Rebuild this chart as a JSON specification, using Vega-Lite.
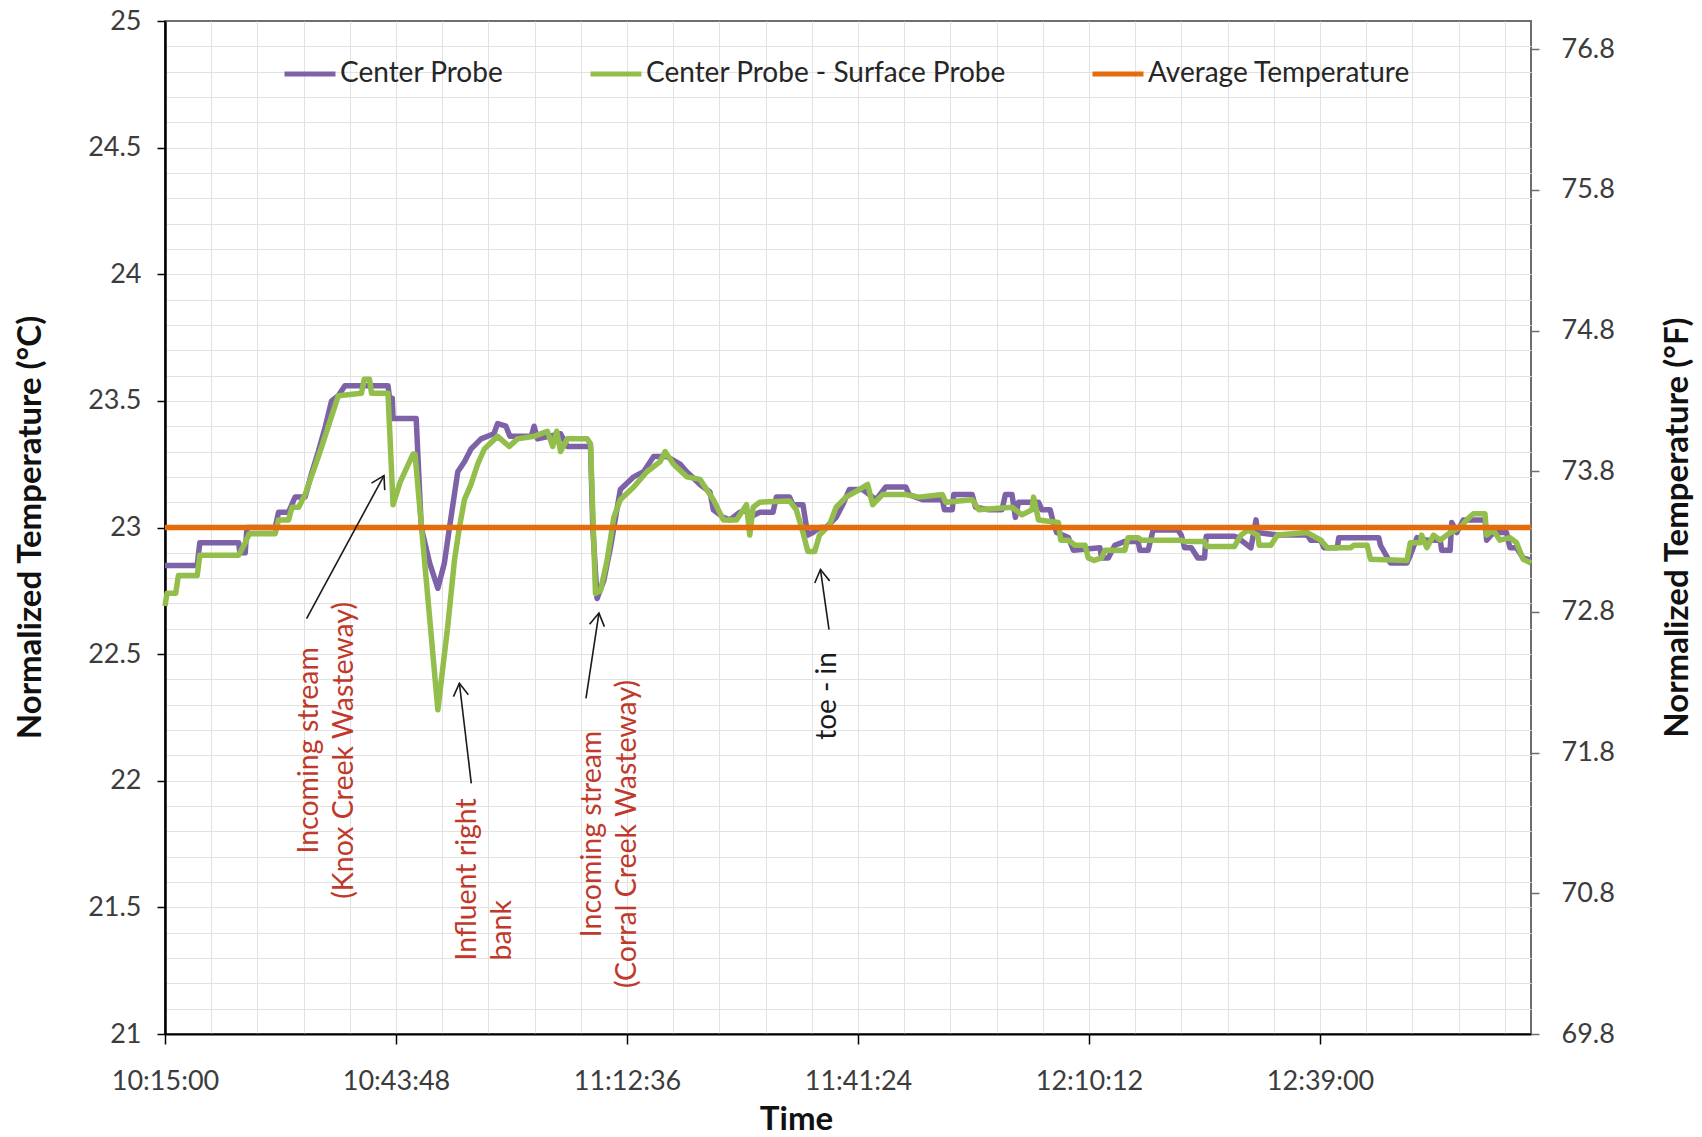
{
  "$schema": "https://vega.github.io/schema/vega-lite/v6.json",
  "width": 1366,
  "height": 1013,
  "autosize": {"type": "none"},
  "padding": {"left": 165, "top": 21, "right": 171, "bottom": 103},
  "background": "white",
  "config": {
    "font": "Lato",
    "view": {"stroke": "#6e6e6e", "strokeWidth": 2},
    "axis": {"labelFont": "Lato", "titleFont": "Lato", "labelColor": "#3c3c3c", "titleColor": "#111111", "labelFontSize": 27, "titleFontSize": 33, "titleFontWeight": "bold", "labelFlush": false, "labelOverlap": false}
  },
  "datasets": {
    "series": [
      {"t": "10:15:00", "T": 22.85, "s": "Center Probe"},
      {"t": "10:19:01", "T": 22.85, "s": "Center Probe"},
      {"t": "10:19:20", "T": 22.94, "s": "Center Probe"},
      {"t": "10:24:11", "T": 22.94, "s": "Center Probe"},
      {"t": "10:24:20", "T": 22.90, "s": "Center Probe"},
      {"t": "10:25:00", "T": 22.90, "s": "Center Probe"},
      {"t": "10:25:13", "T": 23.00, "s": "Center Probe"},
      {"t": "10:28:44", "T": 23.00, "s": "Center Probe"},
      {"t": "10:29:09", "T": 23.06, "s": "Center Probe"},
      {"t": "10:30:24", "T": 23.06, "s": "Center Probe"},
      {"t": "10:31:13", "T": 23.12, "s": "Center Probe"},
      {"t": "10:32:28", "T": 23.12, "s": "Center Probe"},
      {"t": "10:33:20", "T": 23.22, "s": "Center Probe"},
      {"t": "10:34:07", "T": 23.30, "s": "Center Probe"},
      {"t": "10:35:00", "T": 23.40, "s": "Center Probe"},
      {"t": "10:35:46", "T": 23.50, "s": "Center Probe"},
      {"t": "10:36:36", "T": 23.52, "s": "Center Probe"},
      {"t": "10:37:26", "T": 23.56, "s": "Center Probe"},
      {"t": "10:42:48", "T": 23.56, "s": "Center Probe"},
      {"t": "10:43:00", "T": 23.51, "s": "Center Probe"},
      {"t": "10:43:20", "T": 23.51, "s": "Center Probe"},
      {"t": "10:43:26", "T": 23.43, "s": "Center Probe"},
      {"t": "10:46:19", "T": 23.43, "s": "Center Probe"},
      {"t": "10:46:57", "T": 23.00, "s": "Center Probe"},
      {"t": "10:47:59", "T": 22.86, "s": "Center Probe"},
      {"t": "10:49:01", "T": 22.76, "s": "Center Probe"},
      {"t": "10:49:50", "T": 22.86, "s": "Center Probe"},
      {"t": "10:50:28", "T": 23.00, "s": "Center Probe"},
      {"t": "10:51:30", "T": 23.22, "s": "Center Probe"},
      {"t": "10:52:20", "T": 23.26, "s": "Center Probe"},
      {"t": "10:53:09", "T": 23.31, "s": "Center Probe"},
      {"t": "10:54:24", "T": 23.35, "s": "Center Probe"},
      {"t": "10:56:00", "T": 23.37, "s": "Center Probe"},
      {"t": "10:56:28", "T": 23.41, "s": "Center Probe"},
      {"t": "10:57:30", "T": 23.40, "s": "Center Probe"},
      {"t": "10:58:00", "T": 23.36, "s": "Center Probe"},
      {"t": "11:00:40", "T": 23.36, "s": "Center Probe"},
      {"t": "11:01:01", "T": 23.40, "s": "Center Probe"},
      {"t": "11:01:26", "T": 23.35, "s": "Center Probe"},
      {"t": "11:04:19", "T": 23.37, "s": "Center Probe"},
      {"t": "11:05:09", "T": 23.32, "s": "Center Probe"},
      {"t": "11:08:03", "T": 23.32, "s": "Center Probe"},
      {"t": "11:08:20", "T": 23.00, "s": "Center Probe"},
      {"t": "11:08:52", "T": 22.72, "s": "Center Probe"},
      {"t": "11:09:42", "T": 22.79, "s": "Center Probe"},
      {"t": "11:10:32", "T": 22.92, "s": "Center Probe"},
      {"t": "11:11:46", "T": 23.15, "s": "Center Probe"},
      {"t": "11:13:26", "T": 23.20, "s": "Center Probe"},
      {"t": "11:14:40", "T": 23.22, "s": "Center Probe"},
      {"t": "11:15:55", "T": 23.28, "s": "Center Probe"},
      {"t": "11:17:34", "T": 23.28, "s": "Center Probe"},
      {"t": "11:19:13", "T": 23.25, "s": "Center Probe"},
      {"t": "11:20:03", "T": 23.22, "s": "Center Probe"},
      {"t": "11:21:42", "T": 23.17, "s": "Center Probe"},
      {"t": "11:22:56", "T": 23.14, "s": "Center Probe"},
      {"t": "11:23:22", "T": 23.07, "s": "Center Probe"},
      {"t": "11:24:36", "T": 23.04, "s": "Center Probe"},
      {"t": "11:25:25", "T": 23.03, "s": "Center Probe"},
      {"t": "11:26:40", "T": 23.06, "s": "Center Probe"},
      {"t": "11:27:30", "T": 23.07, "s": "Center Probe"},
      {"t": "11:27:54", "T": 23.04, "s": "Center Probe"},
      {"t": "11:29:09", "T": 23.06, "s": "Center Probe"},
      {"t": "11:30:48", "T": 23.06, "s": "Center Probe"},
      {"t": "11:31:13", "T": 23.12, "s": "Center Probe"},
      {"t": "11:32:52", "T": 23.12, "s": "Center Probe"},
      {"t": "11:33:17", "T": 23.09, "s": "Center Probe"},
      {"t": "11:34:32", "T": 23.09, "s": "Center Probe"},
      {"t": "11:34:50", "T": 23.03, "s": "Center Probe"},
      {"t": "11:35:09", "T": 22.97, "s": "Center Probe"},
      {"t": "11:35:46", "T": 22.98, "s": "Center Probe"},
      {"t": "11:36:36", "T": 23.00, "s": "Center Probe"},
      {"t": "11:37:25", "T": 23.00, "s": "Center Probe"},
      {"t": "11:38:40", "T": 23.04, "s": "Center Probe"},
      {"t": "11:39:30", "T": 23.09, "s": "Center Probe"},
      {"t": "11:40:19", "T": 23.15, "s": "Center Probe"},
      {"t": "11:41:59", "T": 23.15, "s": "Center Probe"},
      {"t": "11:43:38", "T": 23.11, "s": "Center Probe"},
      {"t": "11:44:52", "T": 23.16, "s": "Center Probe"},
      {"t": "11:47:21", "T": 23.16, "s": "Center Probe"},
      {"t": "11:47:46", "T": 23.13, "s": "Center Probe"},
      {"t": "11:49:26", "T": 23.11, "s": "Center Probe"},
      {"t": "11:51:55", "T": 23.11, "s": "Center Probe"},
      {"t": "11:52:10", "T": 23.07, "s": "Center Probe"},
      {"t": "11:53:09", "T": 23.07, "s": "Center Probe"},
      {"t": "11:53:20", "T": 23.13, "s": "Center Probe"},
      {"t": "11:55:38", "T": 23.13, "s": "Center Probe"},
      {"t": "11:56:03", "T": 23.08, "s": "Center Probe"},
      {"t": "11:57:42", "T": 23.07, "s": "Center Probe"},
      {"t": "11:59:21", "T": 23.07, "s": "Center Probe"},
      {"t": "11:59:46", "T": 23.13, "s": "Center Probe"},
      {"t": "12:00:36", "T": 23.13, "s": "Center Probe"},
      {"t": "12:01:01", "T": 23.04, "s": "Center Probe"},
      {"t": "12:01:25", "T": 23.10, "s": "Center Probe"},
      {"t": "12:03:54", "T": 23.10, "s": "Center Probe"},
      {"t": "12:04:19", "T": 23.07, "s": "Center Probe"},
      {"t": "12:05:21", "T": 23.07, "s": "Center Probe"},
      {"t": "12:05:40", "T": 23.03, "s": "Center Probe"},
      {"t": "12:06:10", "T": 22.98, "s": "Center Probe"},
      {"t": "12:07:38", "T": 22.96, "s": "Center Probe"},
      {"t": "12:08:15", "T": 22.91, "s": "Center Probe"},
      {"t": "12:11:34", "T": 22.92, "s": "Center Probe"},
      {"t": "12:11:46", "T": 22.88, "s": "Center Probe"},
      {"t": "12:12:36", "T": 22.88, "s": "Center Probe"},
      {"t": "12:13:25", "T": 22.93, "s": "Center Probe"},
      {"t": "12:14:40", "T": 22.945, "s": "Center Probe"},
      {"t": "12:16:19", "T": 22.945, "s": "Center Probe"},
      {"t": "12:16:32", "T": 22.91, "s": "Center Probe"},
      {"t": "12:17:34", "T": 22.91, "s": "Center Probe"},
      {"t": "12:18:11", "T": 22.99, "s": "Center Probe"},
      {"t": "12:21:17", "T": 22.99, "s": "Center Probe"},
      {"t": "12:21:42", "T": 22.97, "s": "Center Probe"},
      {"t": "12:22:07", "T": 22.92, "s": "Center Probe"},
      {"t": "12:22:57", "T": 22.92, "s": "Center Probe"},
      {"t": "12:23:46", "T": 22.88, "s": "Center Probe"},
      {"t": "12:24:36", "T": 22.88, "s": "Center Probe"},
      {"t": "12:24:48", "T": 22.965, "s": "Center Probe"},
      {"t": "12:28:19", "T": 22.965, "s": "Center Probe"},
      {"t": "12:28:44", "T": 22.96, "s": "Center Probe"},
      {"t": "12:30:23", "T": 22.92, "s": "Center Probe"},
      {"t": "12:31:01", "T": 23.03, "s": "Center Probe"},
      {"t": "12:31:13", "T": 22.98, "s": "Center Probe"},
      {"t": "12:33:42", "T": 22.97, "s": "Center Probe"},
      {"t": "12:37:25", "T": 22.97, "s": "Center Probe"},
      {"t": "12:37:50", "T": 22.95, "s": "Center Probe"},
      {"t": "12:39:05", "T": 22.95, "s": "Center Probe"},
      {"t": "12:39:29", "T": 22.92, "s": "Center Probe"},
      {"t": "12:41:09", "T": 22.92, "s": "Center Probe"},
      {"t": "12:41:20", "T": 22.96, "s": "Center Probe"},
      {"t": "12:46:19", "T": 22.96, "s": "Center Probe"},
      {"t": "12:46:32", "T": 22.93, "s": "Center Probe"},
      {"t": "12:47:46", "T": 22.86, "s": "Center Probe"},
      {"t": "12:49:50", "T": 22.86, "s": "Center Probe"},
      {"t": "12:50:15", "T": 22.89, "s": "Center Probe"},
      {"t": "12:51:05", "T": 22.96, "s": "Center Probe"},
      {"t": "12:52:19", "T": 22.95, "s": "Center Probe"},
      {"t": "12:53:59", "T": 22.95, "s": "Center Probe"},
      {"t": "12:54:10", "T": 22.91, "s": "Center Probe"},
      {"t": "12:55:13", "T": 22.91, "s": "Center Probe"},
      {"t": "12:55:25", "T": 23.02, "s": "Center Probe"},
      {"t": "12:56:03", "T": 22.98, "s": "Center Probe"},
      {"t": "12:56:52", "T": 23.03, "s": "Center Probe"},
      {"t": "12:59:34", "T": 23.03, "s": "Center Probe"},
      {"t": "12:59:46", "T": 22.95, "s": "Center Probe"},
      {"t": "13:00:36", "T": 22.98, "s": "Center Probe"},
      {"t": "13:02:15", "T": 22.98, "s": "Center Probe"},
      {"t": "13:02:40", "T": 22.92, "s": "Center Probe"},
      {"t": "13:03:30", "T": 22.92, "s": "Center Probe"},
      {"t": "13:04:19", "T": 22.88, "s": "Center Probe"},
      {"t": "13:05:18", "T": 22.87, "s": "Center Probe"},
      {"t": "10:15:00", "T": 22.69, "s": "Center Probe - Surface Probe"},
      {"t": "10:15:15", "T": 22.74, "s": "Center Probe - Surface Probe"},
      {"t": "10:16:20", "T": 22.74, "s": "Center Probe - Surface Probe"},
      {"t": "10:16:40", "T": 22.81, "s": "Center Probe - Surface Probe"},
      {"t": "10:19:01", "T": 22.81, "s": "Center Probe - Surface Probe"},
      {"t": "10:19:20", "T": 22.89, "s": "Center Probe - Surface Probe"},
      {"t": "10:24:11", "T": 22.89, "s": "Center Probe - Surface Probe"},
      {"t": "10:25:00", "T": 22.94, "s": "Center Probe - Surface Probe"},
      {"t": "10:25:30", "T": 22.975, "s": "Center Probe - Surface Probe"},
      {"t": "10:28:44", "T": 22.975, "s": "Center Probe - Surface Probe"},
      {"t": "10:29:09", "T": 23.03, "s": "Center Probe - Surface Probe"},
      {"t": "10:30:24", "T": 23.03, "s": "Center Probe - Surface Probe"},
      {"t": "10:30:50", "T": 23.08, "s": "Center Probe - Surface Probe"},
      {"t": "10:31:40", "T": 23.08, "s": "Center Probe - Surface Probe"},
      {"t": "10:32:28", "T": 23.13, "s": "Center Probe - Surface Probe"},
      {"t": "10:34:20", "T": 23.30, "s": "Center Probe - Surface Probe"},
      {"t": "10:36:36", "T": 23.52, "s": "Center Probe - Surface Probe"},
      {"t": "10:39:30", "T": 23.53, "s": "Center Probe - Surface Probe"},
      {"t": "10:39:50", "T": 23.585, "s": "Center Probe - Surface Probe"},
      {"t": "10:40:30", "T": 23.585, "s": "Center Probe - Surface Probe"},
      {"t": "10:40:45", "T": 23.53, "s": "Center Probe - Surface Probe"},
      {"t": "10:42:48", "T": 23.53, "s": "Center Probe - Surface Probe"},
      {"t": "10:43:26", "T": 23.09, "s": "Center Probe - Surface Probe"},
      {"t": "10:44:20", "T": 23.18, "s": "Center Probe - Surface Probe"},
      {"t": "10:45:55", "T": 23.29, "s": "Center Probe - Surface Probe"},
      {"t": "10:46:10", "T": 23.29, "s": "Center Probe - Surface Probe"},
      {"t": "10:49:01", "T": 22.28, "s": "Center Probe - Surface Probe"},
      {"t": "10:50:15", "T": 22.61, "s": "Center Probe - Surface Probe"},
      {"t": "10:51:05", "T": 22.87, "s": "Center Probe - Surface Probe"},
      {"t": "10:51:42", "T": 23.00, "s": "Center Probe - Surface Probe"},
      {"t": "10:52:20", "T": 23.11, "s": "Center Probe - Surface Probe"},
      {"t": "10:53:09", "T": 23.17, "s": "Center Probe - Surface Probe"},
      {"t": "10:53:59", "T": 23.25, "s": "Center Probe - Surface Probe"},
      {"t": "10:54:49", "T": 23.31, "s": "Center Probe - Surface Probe"},
      {"t": "10:56:28", "T": 23.36, "s": "Center Probe - Surface Probe"},
      {"t": "10:57:55", "T": 23.32, "s": "Center Probe - Surface Probe"},
      {"t": "10:58:57", "T": 23.35, "s": "Center Probe - Surface Probe"},
      {"t": "11:01:01", "T": 23.36, "s": "Center Probe - Surface Probe"},
      {"t": "11:02:40", "T": 23.38, "s": "Center Probe - Surface Probe"},
      {"t": "11:03:20", "T": 23.32, "s": "Center Probe - Surface Probe"},
      {"t": "11:03:50", "T": 23.38, "s": "Center Probe - Surface Probe"},
      {"t": "11:04:19", "T": 23.30, "s": "Center Probe - Surface Probe"},
      {"t": "11:05:09", "T": 23.35, "s": "Center Probe - Surface Probe"},
      {"t": "11:07:38", "T": 23.35, "s": "Center Probe - Surface Probe"},
      {"t": "11:08:03", "T": 23.33, "s": "Center Probe - Surface Probe"},
      {"t": "11:08:40", "T": 22.74, "s": "Center Probe - Surface Probe"},
      {"t": "11:09:17", "T": 22.75, "s": "Center Probe - Surface Probe"},
      {"t": "11:10:07", "T": 22.87, "s": "Center Probe - Surface Probe"},
      {"t": "11:10:57", "T": 23.04, "s": "Center Probe - Surface Probe"},
      {"t": "11:11:46", "T": 23.11, "s": "Center Probe - Surface Probe"},
      {"t": "11:13:26", "T": 23.16, "s": "Center Probe - Surface Probe"},
      {"t": "11:15:05", "T": 23.22, "s": "Center Probe - Surface Probe"},
      {"t": "11:16:44", "T": 23.26, "s": "Center Probe - Surface Probe"},
      {"t": "11:17:21", "T": 23.30, "s": "Center Probe - Surface Probe"},
      {"t": "11:18:24", "T": 23.25, "s": "Center Probe - Surface Probe"},
      {"t": "11:20:03", "T": 23.20, "s": "Center Probe - Surface Probe"},
      {"t": "11:21:42", "T": 23.19, "s": "Center Probe - Surface Probe"},
      {"t": "11:23:22", "T": 23.11, "s": "Center Probe - Surface Probe"},
      {"t": "11:24:36", "T": 23.03, "s": "Center Probe - Surface Probe"},
      {"t": "11:26:15", "T": 23.03, "s": "Center Probe - Surface Probe"},
      {"t": "11:27:30", "T": 23.09, "s": "Center Probe - Surface Probe"},
      {"t": "11:27:54", "T": 22.97, "s": "Center Probe - Surface Probe"},
      {"t": "11:28:20", "T": 23.08, "s": "Center Probe - Surface Probe"},
      {"t": "11:29:09", "T": 23.10, "s": "Center Probe - Surface Probe"},
      {"t": "11:32:52", "T": 23.105, "s": "Center Probe - Surface Probe"},
      {"t": "11:33:42", "T": 23.07, "s": "Center Probe - Surface Probe"},
      {"t": "11:34:32", "T": 22.98, "s": "Center Probe - Surface Probe"},
      {"t": "11:35:09", "T": 22.905, "s": "Center Probe - Surface Probe"},
      {"t": "11:36:00", "T": 22.905, "s": "Center Probe - Surface Probe"},
      {"t": "11:36:36", "T": 22.97, "s": "Center Probe - Surface Probe"},
      {"t": "11:37:50", "T": 23.01, "s": "Center Probe - Surface Probe"},
      {"t": "11:38:40", "T": 23.08, "s": "Center Probe - Surface Probe"},
      {"t": "11:39:54", "T": 23.12, "s": "Center Probe - Surface Probe"},
      {"t": "11:41:34", "T": 23.15, "s": "Center Probe - Surface Probe"},
      {"t": "11:42:36", "T": 23.17, "s": "Center Probe - Surface Probe"},
      {"t": "11:43:13", "T": 23.09, "s": "Center Probe - Surface Probe"},
      {"t": "11:44:27", "T": 23.13, "s": "Center Probe - Surface Probe"},
      {"t": "11:47:21", "T": 23.13, "s": "Center Probe - Surface Probe"},
      {"t": "11:49:00", "T": 23.12, "s": "Center Probe - Surface Probe"},
      {"t": "11:51:55", "T": 23.13, "s": "Center Probe - Surface Probe"},
      {"t": "11:52:20", "T": 23.10, "s": "Center Probe - Surface Probe"},
      {"t": "11:55:38", "T": 23.11, "s": "Center Probe - Surface Probe"},
      {"t": "11:56:28", "T": 23.07, "s": "Center Probe - Surface Probe"},
      {"t": "12:00:36", "T": 23.08, "s": "Center Probe - Surface Probe"},
      {"t": "12:01:50", "T": 23.05, "s": "Center Probe - Surface Probe"},
      {"t": "12:03:05", "T": 23.07, "s": "Center Probe - Surface Probe"},
      {"t": "12:03:17", "T": 23.12, "s": "Center Probe - Surface Probe"},
      {"t": "12:03:54", "T": 23.03, "s": "Center Probe - Surface Probe"},
      {"t": "12:06:23", "T": 23.02, "s": "Center Probe - Surface Probe"},
      {"t": "12:06:40", "T": 22.95, "s": "Center Probe - Surface Probe"},
      {"t": "12:07:38", "T": 22.95, "s": "Center Probe - Surface Probe"},
      {"t": "12:08:27", "T": 22.93, "s": "Center Probe - Surface Probe"},
      {"t": "12:09:42", "T": 22.93, "s": "Center Probe - Surface Probe"},
      {"t": "12:10:06", "T": 22.88, "s": "Center Probe - Surface Probe"},
      {"t": "12:10:50", "T": 22.87, "s": "Center Probe - Surface Probe"},
      {"t": "12:11:46", "T": 22.88, "s": "Center Probe - Surface Probe"},
      {"t": "12:12:11", "T": 22.91, "s": "Center Probe - Surface Probe"},
      {"t": "12:14:40", "T": 22.91, "s": "Center Probe - Surface Probe"},
      {"t": "12:15:04", "T": 22.96, "s": "Center Probe - Surface Probe"},
      {"t": "12:16:19", "T": 22.96, "s": "Center Probe - Surface Probe"},
      {"t": "12:16:44", "T": 22.95, "s": "Center Probe - Surface Probe"},
      {"t": "12:21:42", "T": 22.95, "s": "Center Probe - Surface Probe"},
      {"t": "12:22:07", "T": 22.945, "s": "Center Probe - Surface Probe"},
      {"t": "12:24:36", "T": 22.945, "s": "Center Probe - Surface Probe"},
      {"t": "12:24:50", "T": 22.925, "s": "Center Probe - Surface Probe"},
      {"t": "12:28:19", "T": 22.925, "s": "Center Probe - Surface Probe"},
      {"t": "12:29:09", "T": 22.97, "s": "Center Probe - Surface Probe"},
      {"t": "12:30:00", "T": 22.99, "s": "Center Probe - Surface Probe"},
      {"t": "12:31:13", "T": 22.97, "s": "Center Probe - Surface Probe"},
      {"t": "12:31:25", "T": 22.93, "s": "Center Probe - Surface Probe"},
      {"t": "12:32:52", "T": 22.93, "s": "Center Probe - Surface Probe"},
      {"t": "12:33:42", "T": 22.97, "s": "Center Probe - Surface Probe"},
      {"t": "12:37:25", "T": 22.98, "s": "Center Probe - Surface Probe"},
      {"t": "12:39:05", "T": 22.95, "s": "Center Probe - Surface Probe"},
      {"t": "12:39:54", "T": 22.92, "s": "Center Probe - Surface Probe"},
      {"t": "12:42:48", "T": 22.92, "s": "Center Probe - Surface Probe"},
      {"t": "12:43:13", "T": 22.93, "s": "Center Probe - Surface Probe"},
      {"t": "12:44:52", "T": 22.93, "s": "Center Probe - Surface Probe"},
      {"t": "12:45:17", "T": 22.875, "s": "Center Probe - Surface Probe"},
      {"t": "12:49:50", "T": 22.87, "s": "Center Probe - Surface Probe"},
      {"t": "12:50:15", "T": 22.94, "s": "Center Probe - Surface Probe"},
      {"t": "12:51:30", "T": 22.94, "s": "Center Probe - Surface Probe"},
      {"t": "12:51:40", "T": 22.97, "s": "Center Probe - Surface Probe"},
      {"t": "12:52:19", "T": 22.92, "s": "Center Probe - Surface Probe"},
      {"t": "12:53:09", "T": 22.97, "s": "Center Probe - Surface Probe"},
      {"t": "12:53:59", "T": 22.95, "s": "Center Probe - Surface Probe"},
      {"t": "12:55:13", "T": 22.98, "s": "Center Probe - Surface Probe"},
      {"t": "12:56:28", "T": 23.00, "s": "Center Probe - Surface Probe"},
      {"t": "12:57:17", "T": 23.03, "s": "Center Probe - Surface Probe"},
      {"t": "12:58:07", "T": 23.054, "s": "Center Probe - Surface Probe"},
      {"t": "12:59:34", "T": 23.054, "s": "Center Probe - Surface Probe"},
      {"t": "12:59:46", "T": 22.97, "s": "Center Probe - Surface Probe"},
      {"t": "13:00:36", "T": 22.99, "s": "Center Probe - Surface Probe"},
      {"t": "13:01:25", "T": 22.95, "s": "Center Probe - Surface Probe"},
      {"t": "13:02:40", "T": 22.96, "s": "Center Probe - Surface Probe"},
      {"t": "13:03:30", "T": 22.94, "s": "Center Probe - Surface Probe"},
      {"t": "13:04:19", "T": 22.875, "s": "Center Probe - Surface Probe"},
      {"t": "13:05:18", "T": 22.86, "s": "Center Probe - Surface Probe"},
      {"t": "10:15:00", "T": 23.0, "s": "Average Temperature"},
      {"t": "13:05:18", "T": 23.0, "s": "Average Temperature"}
    ],
    "notes": [
      {"t": "10:32:57", "T": 22.12, "name": "knox", "text": "Incoming  stream\n(Knox Creek Wasteway)"},
      {"t": "10:52:39", "T": 21.29, "name": "influent", "text": "Influent right\nbank"},
      {"t": "11:08:14", "T": 21.79, "name": "corral", "text": "Incoming  stream\n(Corral Creek Wasteway)"},
      {"t": "11:37:37", "T": 22.335, "name": "toe", "text": "toe - in"}
    ],
    "arrows": [
      {"name": "knox", "t1": "10:32:39", "T1": 22.64, "t": "10:42:18", "T": 23.205},
      {"name": "influent", "t1": "10:53:11", "T1": 21.99, "t": "10:51:42", "T": 22.385},
      {"name": "corral", "t1": "11:07:29", "T1": 22.325, "t": "11:09:06", "T": 22.662},
      {"name": "toe", "t1": "11:37:47", "T1": 22.597, "t": "11:36:43", "T": 22.834}
    ]
  },
  "resolve": {"axis": {"x": "independent", "y": "independent"}},
  "encoding": {
    "x": {"field": "t", "type": "temporal", "scale": {"domain": [{"year": 1900, "month": 1, "date": 1, "hours": 10, "minutes": 15, "seconds": 0}, {"year": 1900, "month": 1, "date": 1, "hours": 13, "minutes": 5, "seconds": 18}], "nice": false}, "axis": null},
    "y": {"field": "T", "type": "quantitative", "scale": {"domain": [21, 25], "nice": false, "zero": false}, "axis": null}
  },
  "layer": [
    {
      "data": {"name": "series", "format": {"parse": {"t": "date:'%H:%M:%S'"}}},
      "mark": {"type": "line", "strokeWidth": 5.5, "strokeJoin": "round"},
      "encoding": {
        "x": {"field": "t", "type": "temporal", "scale": {"domain": [{"year": 1900, "month": 1, "date": 1, "hours": 10, "minutes": 15, "seconds": 0}, {"year": 1900, "month": 1, "date": 1, "hours": 13, "minutes": 5, "seconds": 18}], "nice": false},
          "axis": {"orient": "bottom", "grid": true, "gridColor": "#e2e2e2", "gridWidth": 1, "labels": false, "ticks": false, "domain": false, "title": null,
            "values": [
              {"year": 1900, "month": 1, "date": 1, "hours": 10, "minutes": 20, "seconds": 45, "milliseconds": 600},
              {"year": 1900, "month": 1, "date": 1, "hours": 10, "minutes": 26, "seconds": 31, "milliseconds": 200},
              {"year": 1900, "month": 1, "date": 1, "hours": 10, "minutes": 32, "seconds": 16, "milliseconds": 800},
              {"year": 1900, "month": 1, "date": 1, "hours": 10, "minutes": 38, "seconds": 2, "milliseconds": 400},
              {"year": 1900, "month": 1, "date": 1, "hours": 10, "minutes": 43, "seconds": 48},
              {"year": 1900, "month": 1, "date": 1, "hours": 10, "minutes": 49, "seconds": 33, "milliseconds": 600},
              {"year": 1900, "month": 1, "date": 1, "hours": 10, "minutes": 55, "seconds": 19, "milliseconds": 200},
              {"year": 1900, "month": 1, "date": 1, "hours": 11, "minutes": 1, "seconds": 4, "milliseconds": 800},
              {"year": 1900, "month": 1, "date": 1, "hours": 11, "minutes": 6, "seconds": 50, "milliseconds": 400},
              {"year": 1900, "month": 1, "date": 1, "hours": 11, "minutes": 12, "seconds": 36},
              {"year": 1900, "month": 1, "date": 1, "hours": 11, "minutes": 18, "seconds": 21, "milliseconds": 600},
              {"year": 1900, "month": 1, "date": 1, "hours": 11, "minutes": 24, "seconds": 7, "milliseconds": 200},
              {"year": 1900, "month": 1, "date": 1, "hours": 11, "minutes": 29, "seconds": 52, "milliseconds": 800},
              {"year": 1900, "month": 1, "date": 1, "hours": 11, "minutes": 35, "seconds": 38, "milliseconds": 400},
              {"year": 1900, "month": 1, "date": 1, "hours": 11, "minutes": 41, "seconds": 24},
              {"year": 1900, "month": 1, "date": 1, "hours": 11, "minutes": 47, "seconds": 9, "milliseconds": 600},
              {"year": 1900, "month": 1, "date": 1, "hours": 11, "minutes": 52, "seconds": 55, "milliseconds": 200},
              {"year": 1900, "month": 1, "date": 1, "hours": 11, "minutes": 58, "seconds": 40, "milliseconds": 800},
              {"year": 1900, "month": 1, "date": 1, "hours": 12, "minutes": 4, "seconds": 26, "milliseconds": 400},
              {"year": 1900, "month": 1, "date": 1, "hours": 12, "minutes": 10, "seconds": 12},
              {"year": 1900, "month": 1, "date": 1, "hours": 12, "minutes": 15, "seconds": 57, "milliseconds": 600},
              {"year": 1900, "month": 1, "date": 1, "hours": 12, "minutes": 21, "seconds": 43, "milliseconds": 200},
              {"year": 1900, "month": 1, "date": 1, "hours": 12, "minutes": 27, "seconds": 28, "milliseconds": 800},
              {"year": 1900, "month": 1, "date": 1, "hours": 12, "minutes": 33, "seconds": 14, "milliseconds": 400},
              {"year": 1900, "month": 1, "date": 1, "hours": 12, "minutes": 39, "seconds": 0},
              {"year": 1900, "month": 1, "date": 1, "hours": 12, "minutes": 44, "seconds": 45, "milliseconds": 600},
              {"year": 1900, "month": 1, "date": 1, "hours": 12, "minutes": 50, "seconds": 31, "milliseconds": 200},
              {"year": 1900, "month": 1, "date": 1, "hours": 12, "minutes": 56, "seconds": 16, "milliseconds": 800},
              {"year": 1900, "month": 1, "date": 1, "hours": 13, "minutes": 2, "seconds": 2, "milliseconds": 400}
            ]}},
        "y": {"field": "T", "type": "quantitative", "scale": {"domain": [21, 25], "nice": false, "zero": false},
          "axis": {"orient": "left", "grid": true, "gridColor": "#e2e2e2", "gridWidth": 1, "labels": false, "ticks": false, "domain": false, "title": null,
            "values": [21.1, 21.2, 21.3, 21.4, 21.5, 21.6, 21.7, 21.8, 21.9, 22, 22.1, 22.2, 22.3, 22.4, 22.5, 22.6, 22.7, 22.8, 22.9, 23, 23.1, 23.2, 23.3, 23.4, 23.5, 23.6, 23.7, 23.8, 23.9, 24, 24.1, 24.2, 24.3, 24.4, 24.5, 24.6, 24.7, 24.8, 24.9]}},
        "color": {"field": "s", "type": "nominal",
          "scale": {"domain": ["Center Probe", "Center Probe - Surface Probe", "Average Temperature"], "range": ["#7E62A8", "#93BE4B", "#E46C0A"]},
          "legend": {"orient": "none", "legendX": 117, "legendY": 25, "direction": "horizontal", "title": null, "symbolType": "stroke", "symbolSize": 2600, "symbolStrokeWidth": 5, "labelFont": "Lato", "labelFontSize": 28, "labelColor": "#262626", "labelOffset": 2, "columnPadding": 76, "padding": 0, "labelLimit": 0}}
      }
    },
    {
      "data": {"name": "notes", "format": {"parse": {"t": "date:'%H:%M:%S'"}}},
      "resolve": {"axis": {"x": "independent", "y": "independent"}},
      "layer": [
        {
          "transform": [{"filter": "datum.name === 'knox' || datum.name === 'corral'"}],
          "mark": {"type": "text", "angle": 270, "align": "center", "baseline": "middle", "fontSize": 28.5, "lineHeight": 35, "lineBreak": "\n", "color": "#C0392B"},
          "encoding": {
            "x": {"field": "t", "type": "temporal", "scale": {"domain": [{"year": 1900, "month": 1, "date": 1, "hours": 10, "minutes": 15, "seconds": 0}, {"year": 1900, "month": 1, "date": 1, "hours": 13, "minutes": 5, "seconds": 18}], "nice": false},
              "axis": {"orient": "bottom", "grid": false, "format": "%H:%M:%S", "tickSize": 10, "tickColor": "#000000", "tickWidth": 1.5, "domainColor": "#000000", "domainWidth": 2, "labelPadding": 24, "title": "Time", "titleX": 631, "titleY": 85, "titleBaseline": "middle", "titleAlign": "center",
                "values": [
                  {"year": 1900, "month": 1, "date": 1, "hours": 10, "minutes": 15, "seconds": 0},
                  {"year": 1900, "month": 1, "date": 1, "hours": 10, "minutes": 43, "seconds": 48},
                  {"year": 1900, "month": 1, "date": 1, "hours": 11, "minutes": 12, "seconds": 36},
                  {"year": 1900, "month": 1, "date": 1, "hours": 11, "minutes": 41, "seconds": 24},
                  {"year": 1900, "month": 1, "date": 1, "hours": 12, "minutes": 10, "seconds": 12},
                  {"year": 1900, "month": 1, "date": 1, "hours": 12, "minutes": 39, "seconds": 0}
                ]}},
            "y": {"field": "T", "type": "quantitative", "scale": {"domain": [21, 25], "nice": false, "zero": false},
              "axis": {"orient": "left", "grid": false, "values": [21, 21.5, 22, 22.5, 23, 23.5, 24, 24.5, 25], "format": "~g", "tickSize": 8, "tickColor": "#000000", "tickWidth": 1.5, "domainColor": "#000000", "domainWidth": 2.5, "labelPadding": 16, "title": "Normalized Temperature (°C)", "titleAngle": 270, "titleX": -135, "titleY": 506, "titleBaseline": "middle", "titleAlign": "center"}},
            "text": {"field": "text", "type": "nominal"}
          }
        },
        {
          "transform": [{"filter": "datum.name === 'influent'"}],
          "mark": {"type": "text", "angle": 270, "align": "left", "baseline": "middle", "fontSize": 28.5, "lineHeight": 35, "lineBreak": "\n", "color": "#C0392B"},
          "encoding": {"text": {"field": "text", "type": "nominal"}}
        },
        {
          "transform": [{"filter": "datum.name === 'toe'"}],
          "mark": {"type": "text", "angle": 270, "align": "center", "baseline": "middle", "fontSize": 28, "color": "#1a1a1a"},
          "encoding": {"text": {"field": "text", "type": "nominal"}}
        }
      ]
    },
    {
      "data": {"name": "arrows", "format": {"parse": {"t": "date:'%H:%M:%S'", "t1": "date:'%H:%M:%S'"}}},
      "resolve": {"axis": {"x": "independent", "y": "independent"}},
      "layer": [
        {
          "mark": {"type": "rule", "color": "#1a1a1a", "strokeWidth": 1.6},
          "encoding": {
            "x": {"field": "t1", "type": "temporal", "scale": {"domain": [{"year": 1900, "month": 1, "date": 1, "hours": 10, "minutes": 15, "seconds": 0}, {"year": 1900, "month": 1, "date": 1, "hours": 13, "minutes": 5, "seconds": 18}], "nice": false}, "axis": null},
            "y": {"field": "T1", "type": "quantitative", "scale": {"domain": [21, 25], "nice": false, "zero": false},
              "axis": {"orient": "right", "grid": false, "domain": false, "values": [21, 21.5556, 22.1111, 22.6667, 23.2222, 23.7778, 24.3333, 24.8889], "labelExpr": "format(datum.value * 9 / 5 + 32, '.1f')", "tickSize": 8, "tickColor": "#6e6e6e", "tickWidth": 1.5, "labelPadding": 22, "title": "Normalized Temperature (°F)", "titleAngle": 270, "titleX": 146, "titleY": 506, "titleBaseline": "middle", "titleAlign": "center"}},
            "x2": {"field": "t"},
            "y2": {"field": "T"}
          }
        },
        {
          "transform": [{"filter": "datum.name === 'knox'"}],
          "mark": {"type": "point", "shape": "M-0.6,1L0,0L0.6,1", "filled": false, "size": 625, "stroke": "#1a1a1a", "strokeWidth": 1.6, "angle": 28, "opacity": 1}
        },
        {
          "transform": [{"filter": "datum.name === 'influent'"}],
          "mark": {"type": "point", "shape": "M-0.6,1L0,0L0.6,1", "filled": false, "size": 625, "stroke": "#1a1a1a", "strokeWidth": 1.6, "angle": -7, "opacity": 1}
        },
        {
          "transform": [{"filter": "datum.name === 'corral'"}],
          "mark": {"type": "point", "shape": "M-0.6,1L0,0L0.6,1", "filled": false, "size": 625, "stroke": "#1a1a1a", "strokeWidth": 1.6, "angle": 9, "opacity": 1}
        },
        {
          "transform": [{"filter": "datum.name === 'toe'"}],
          "mark": {"type": "point", "shape": "M-0.6,1L0,0L0.6,1", "filled": false, "size": 625, "stroke": "#1a1a1a", "strokeWidth": 1.6, "angle": -8, "opacity": 1}
        }
      ]
    }
  ]
}
